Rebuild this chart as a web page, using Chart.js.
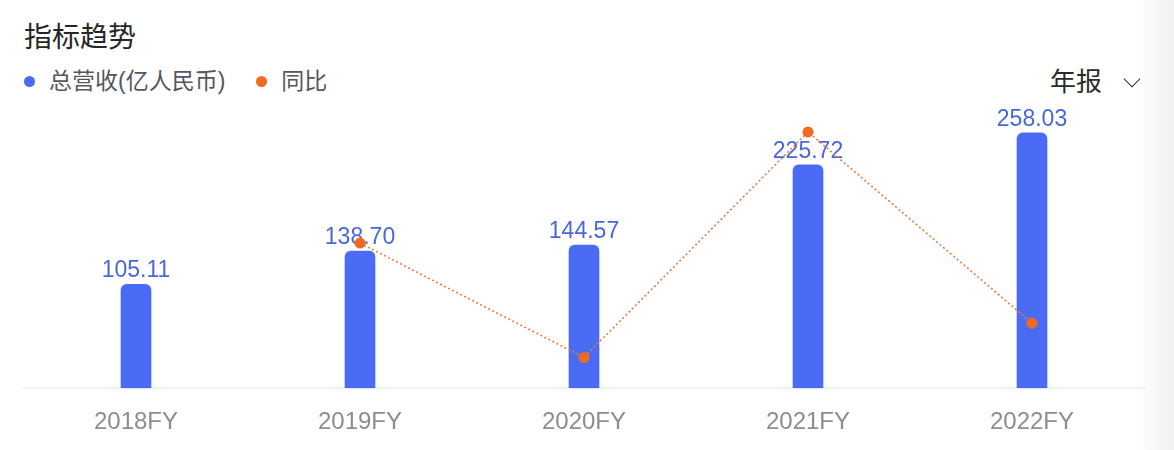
<!DOCTYPE html>
<html>
<head>
<meta charset="utf-8">
<script src="https://cdn.jsdelivr.net/npm/chart.js@4.4.1/dist/chart.umd.min.js"></script>
<style>
  html, body { margin: 0; padding: 0; background: #fff; }
  #wrap { position: relative; width: 1174px; height: 450px; overflow: hidden;
          font-family: "Liberation Sans", "Noto Sans CJK SC", sans-serif; }
  #trendChart { position: absolute; left: 0; top: 0; }
  .title { position: absolute; left: 24px; top: 24px; font-size: 28px; line-height: 1; color: #262626; }
  .legend { position: absolute; left: 24px; top: 70px; font-size: 23px; line-height: 1; color: #55565e;
            display: flex; align-items: center; }
  .legend .dot { display: inline-block; width: 11px; height: 11px; border-radius: 50%; margin-right: 14px; }
  .legend .item { display: flex; align-items: center; margin-right: 31px; }
  .period { position: absolute; left: 1050px; top: 69px; font-size: 26px; line-height: 1; color: #2b2b2b; }
  .chev { position: absolute; left: 76px; top: 4px; width: 11px; height: 11px;
          border-right: 1.6px solid #333; border-bottom: 1.6px solid #333; transform: rotate(45deg); }
  .edge { position: absolute; right: 0; top: 0; width: 38px; height: 450px;
          background: linear-gradient(to right, rgba(243,243,243,0), #f1f1f1); }
</style>
</head>
<body>
<div id="wrap">
  <div class="title">指标趋势</div>
  <div class="legend">
    <span class="item"><span class="dot" style="background:#4a6cf5"></span>总营收(亿人民币)</span>
    <span class="item"><span class="dot" style="background:#f26a1f"></span>同比</span>
  </div>
  <div class="period">年报<span class="chev"></span></div>
  <canvas id="trendChart" width="1174" height="472"></canvas>
  <div class="edge"></div>
</div>
<script>
// data
const years = ['2018FY', '2019FY', '2020FY', '2021FY', '2022FY'];
const revenue = [105.11, 138.70, 144.57, 225.72, 258.03];   // 总营收(亿人民币)
const yoy = [null, 31.4, 5.4, 56.7, 13.2];                  // 同比 (%)

const barColor = '#4a6cf5';
const labelColor = '#4867d9';
const dotColor = '#f26a1f';

// value labels above the bars, drawn right after the bars so the line sits on top
const barLabels = {
    id: 'barLabels',
    afterDatasetDraw(chart, args) {
        if (args.meta.type !== 'bar') return;
        const ctx = chart.ctx;
        ctx.save();
        ctx.font = '23px "Liberation Sans", Arial, sans-serif';
        ctx.fillStyle = labelColor;
        ctx.textAlign = 'center';
        ctx.textBaseline = 'alphabetic';
        args.meta.data.forEach((bar, i) => {
            ctx.fillText(revenue[i].toFixed(2), bar.x, bar.y - 7);
        });
        ctx.restore();
    }
};

const trendChart = new Chart(document.getElementById('trendChart'), {
    data: {
        labels: years,
        datasets: [{
            type: 'bar',
            label: '总营收(亿人民币)',
            data: revenue,
            backgroundColor: barColor,
            barThickness: 30,
            borderRadius: { topLeft: 6, topRight: 6 },
            borderSkipped: 'bottom',
            yAxisID: 'y',
            order: 1
        }, {
            type: 'line',
            label: '同比',
            data: yoy,
            borderColor: '#ea7a3c',
            borderWidth: 1.6,
            borderDash: [2, 2.5],
            pointRadius: 5.5,
            pointBorderWidth: 0,
            pointBackgroundColor: dotColor,
            tension: 0,
            clip: false,
            yAxisID: 'y1',
            order: 0
        }]
    },
    options: {
        responsive: false,
        animation: false,
        layout: { padding: { left: 24, right: 30, top: 131, bottom: 15 } },
        plugins: {
            legend: { display: false },
            tooltip: { enabled: false }
        },
        scales: {
            x: {
                grid: { display: false, drawTicks: false },
                border: { display: true, color: '#eceef2', width: 1.5 },
                ticks: {
                    padding: 20,
                    color: '#8c8c97',
                    font: { family: '"Liberation Sans", Arial, sans-serif', size: 24 }
                }
            },
            y: { display: false, min: 0, max: 260 },
            y1: { display: false, min: -1.6, max: 56.9 }
        }
    },
    plugins: [barLabels]
});
</script>
</body>
</html>
